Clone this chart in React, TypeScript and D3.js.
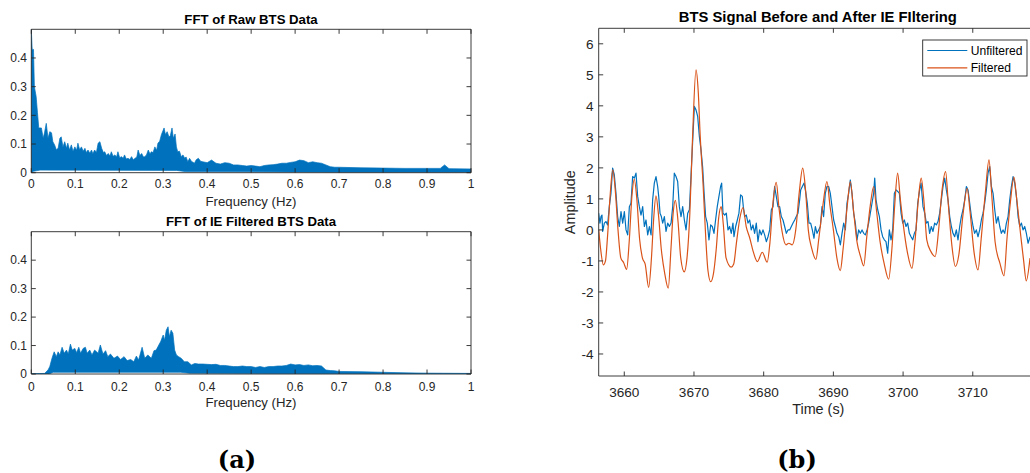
import React from 'react';
import * as d3 from 'd3';

const W = 1030;
const H = 473;
const BLUE = '#0072BD';
const ORANGE = '#D95319';
const AXC = '#262626';
const FONT = 'Liberation Sans, Arial, Helvetica, sans-serif';

// ---------- tick values / labels ----------
const freqTicks = [0, 0.1, 0.2, 0.3, 0.4, 0.5, 0.6, 0.7, 0.8, 0.9, 1];
const freqTickLabels = ['0', '0.1', '0.2', '0.3', '0.4', '0.5', '0.6', '0.7', '0.8', '0.9', '1'];
const fftYTicks = [0, 0.1, 0.2, 0.3, 0.4];
const fftYTickLabels = ['0', '0.1', '0.2', '0.3', '0.4'];
const timeTicks = [3660, 3670, 3680, 3690, 3700, 3710];
const ampTicks = [-4, -3, -2, -1, 0, 1, 2, 3, 4, 5, 6];

// ---------- FFT of raw data: [freq, upper envelope] ----------
const rawSpectrumTop: [number, number][] = [
  [0, 0.5], [0.002, 0.43], [0.005, 0.43], [0.007, 0.3], [0.011, 0.266], [0.014, 0.21], [0.017, 0.156],
  [0.023, 0.156], [0.027, 0.12], [0.03, 0.139], [0.034, 0.172], [0.038, 0.12], [0.042, 0.143],
  [0.046, 0.139], [0.049, 0.108], [0.053, 0.097], [0.057, 0.08], [0.061, 0.085], [0.065, 0.12],
  [0.068, 0.125], [0.072, 0.09], [0.076, 0.108], [0.08, 0.085], [0.083, 0.103], [0.087, 0.079],
  [0.091, 0.097], [0.095, 0.075], [0.099, 0.09], [0.103, 0.078], [0.106, 0.103], [0.11, 0.08],
  [0.114, 0.09], [0.118, 0.075], [0.122, 0.085], [0.125, 0.07], [0.129, 0.079], [0.133, 0.068],
  [0.137, 0.079], [0.14, 0.066], [0.144, 0.079], [0.148, 0.07], [0.152, 0.103], [0.156, 0.108],
  [0.16, 0.085], [0.164, 0.07], [0.167, 0.073], [0.171, 0.06], [0.175, 0.067], [0.179, 0.058],
  [0.182, 0.073], [0.186, 0.057], [0.19, 0.062], [0.194, 0.055], [0.197, 0.073], [0.201, 0.052],
  [0.205, 0.056], [0.209, 0.05], [0.212, 0.062], [0.216, 0.048], [0.22, 0.05], [0.224, 0.046],
  [0.228, 0.056], [0.232, 0.045], [0.236, 0.05], [0.24, 0.055], [0.243, 0.079], [0.247, 0.06],
  [0.251, 0.067], [0.255, 0.055], [0.258, 0.056], [0.262, 0.062], [0.266, 0.079], [0.27, 0.065],
  [0.273, 0.073], [0.277, 0.07], [0.281, 0.09], [0.285, 0.078], [0.288, 0.103], [0.292, 0.11],
  [0.296, 0.133], [0.302, 0.156], [0.305, 0.133], [0.309, 0.143], [0.313, 0.125], [0.316, 0.128],
  [0.32, 0.156], [0.323, 0.12], [0.327, 0.135], [0.33, 0.09], [0.333, 0.073], [0.337, 0.075],
  [0.341, 0.056], [0.345, 0.062], [0.349, 0.05], [0.352, 0.055], [0.356, 0.038], [0.36, 0.05],
  [0.364, 0.04], [0.371, 0.033], [0.375, 0.045], [0.38, 0.05], [0.385, 0.04], [0.39, 0.038],
  [0.4, 0.035], [0.41, 0.044], [0.42, 0.033], [0.43, 0.03], [0.44, 0.035], [0.45, 0.033],
  [0.46, 0.027], [0.47, 0.027], [0.48, 0.025], [0.49, 0.023], [0.5, 0.025], [0.51, 0.023], [0.52, 0.021],
  [0.53, 0.025], [0.54, 0.027], [0.55, 0.028], [0.56, 0.03], [0.57, 0.033], [0.58, 0.033], [0.59, 0.036],
  [0.6, 0.038], [0.61, 0.044], [0.62, 0.042], [0.63, 0.035], [0.64, 0.038], [0.65, 0.035], [0.66, 0.033],
  [0.67, 0.027], [0.68, 0.021], [0.69, 0.019], [0.7, 0.019], [0.75, 0.017], [0.8, 0.016], [0.85, 0.015],
  [0.9, 0.015], [0.93, 0.015], [0.94, 0.027], [0.95, 0.014], [1, 0.013],
];
const rawSpectrumFloor: [number, number][] = [
  [0, 0], [0.005, 0.005], [0.02, 0.009], [0.33, 0.008], [0.35, 0.004], [0.7, 0.002], [1, 0.002],
];

// ---------- FFT of IE filtered data ----------
const filtSpectrumTop: [number, number][] = [
  [0, 0.001], [0.03, 0.002], [0.038, 0.014], [0.042, 0.026], [0.047, 0.055], [0.052, 0.078],
  [0.057, 0.061], [0.061, 0.078], [0.065, 0.067], [0.07, 0.094], [0.075, 0.073], [0.08, 0.084],
  [0.084, 0.07], [0.089, 0.105], [0.093, 0.084], [0.099, 0.09], [0.103, 0.075], [0.108, 0.094],
  [0.112, 0.073], [0.118, 0.09], [0.123, 0.094], [0.127, 0.073], [0.133, 0.084], [0.138, 0.067],
  [0.144, 0.084], [0.152, 0.073], [0.157, 0.102], [0.163, 0.07], [0.169, 0.082], [0.174, 0.061],
  [0.18, 0.07], [0.188, 0.055], [0.196, 0.063], [0.203, 0.051], [0.211, 0.061], [0.218, 0.047],
  [0.226, 0.051], [0.233, 0.043], [0.239, 0.063], [0.244, 0.049], [0.252, 0.094], [0.258, 0.055],
  [0.265, 0.067], [0.273, 0.055], [0.279, 0.082], [0.284, 0.084], [0.29, 0.102], [0.294, 0.113],
  [0.3, 0.137], [0.303, 0.119], [0.307, 0.154], [0.311, 0.166], [0.314, 0.131], [0.318, 0.154],
  [0.322, 0.143], [0.326, 0.084], [0.33, 0.067], [0.335, 0.061], [0.341, 0.055], [0.348, 0.043],
  [0.356, 0.043], [0.364, 0.032], [0.372, 0.037], [0.38, 0.035], [0.39, 0.035],
  [0.4, 0.034], [0.41, 0.033], [0.42, 0.034], [0.43, 0.03], [0.44, 0.03], [0.45, 0.028], [0.46, 0.026],
  [0.47, 0.026], [0.48, 0.028], [0.49, 0.026], [0.5, 0.026], [0.51, 0.023], [0.52, 0.026], [0.53, 0.023],
  [0.54, 0.026], [0.55, 0.026], [0.56, 0.028], [0.57, 0.028], [0.58, 0.03], [0.59, 0.035], [0.6, 0.032],
  [0.61, 0.033], [0.62, 0.03], [0.63, 0.032], [0.64, 0.029], [0.65, 0.03], [0.66, 0.028], [0.67, 0.014],
  [0.68, 0.012], [0.69, 0.011], [0.7, 0.009], [0.75, 0.008], [0.8, 0.006], [0.85, 0.004], [0.9, 0.003],
  [1, 0.002],
];
const filtSpectrumFloor: [number, number][] = [
  [0, 0], [0.04, 0], [0.05, 0.006], [0.34, 0.006], [0.36, 0.003], [0.7, 0.001], [1, 0],
];

// ---------- time signals: [time (s), amplitude] ----------
const unfilteredSignal: [number, number][] = [
  [3656.32, 0.54], [3656.51, 0.22], [3656.66, 0.43], [3656.8, 0.48], [3656.9, -0.05], [3657.14, 0.22],
  [3657.38, 0.27], [3657.61, 0.16], [3657.85, 0.75], [3658.09, 1.18], [3658.33, 1.99], [3658.57, 1.77],
  [3658.81, 1.18], [3659.05, 0.43], [3659.29, 0.11], [3659.53, 0.59], [3659.77, 0.22], [3660.01, 0.59],
  [3660.25, 0], [3660.49, -0.16], [3660.73, 0.75], [3660.96, 0.86], [3661.2, 1.72], [3661.44, 1.67],
  [3661.68, 1.83], [3661.92, 1.08], [3662.16, 0.75], [3662.4, 0.48], [3662.64, 0.75], [3662.88, 0.11],
  [3663.12, 0.32], [3663.36, -0.16], [3663.6, 0.11], [3663.84, -0.16], [3664.07, 0.97], [3664.31, 1.51],
  [3664.55, 1.72], [3664.79, 1.4], [3664.94, 1.08], [3665.13, 0.54], [3665.32, 0.43], [3665.51, 0.22],
  [3665.75, 0.43], [3665.99, -0.05], [3666.23, 0.22], [3666.47, 0.11], [3666.71, 0.22], [3666.95, 0.75],
  [3667.18, 1.83], [3667.42, 1.72], [3667.66, 1.56], [3667.9, 0.75], [3668.14, 0.43], [3668.38, 0.75],
  [3668.62, 0.32], [3668.86, 0], [3669.1, 0.54], [3669.34, 0.65], [3669.58, 1.77], [3669.82, 2.9],
  [3670.06, 3.98], [3670.29, 3.87], [3670.53, 3.66], [3670.77, 3.01], [3671.01, 2.58], [3671.25, 2.0],
  [3671.45, 1.2], [3671.67, 0.43], [3671.91, 0.22], [3672.15, -0.32], [3672.39, 0.16], [3672.63, 0.11],
  [3672.87, -0.11], [3673.1, 0.32], [3673.34, 0.75], [3673.58, 1.08], [3673.82, 1.4], [3673.97, 1.51],
  [3674.16, 0.54], [3674.4, 0.48], [3674.64, 0.54], [3674.88, 0], [3675.11, 0.11], [3675.35, -0.11],
  [3675.59, 0.22], [3675.74, -0.22], [3675.98, 0.11], [3676.22, 0.32], [3676.45, 0.54], [3676.69, 1.13],
  [3676.93, 1.08], [3677.08, 0.75], [3677.27, 0.43], [3677.51, 0.48], [3677.75, 0.22], [3677.99, 0.32],
  [3678.22, 0], [3678.46, 0.16], [3678.7, -0.11], [3678.94, 0.22], [3679.18, -0.38], [3679.42, 0],
  [3679.66, -0.16], [3679.9, 0], [3680.14, -0.16], [3680.38, -0.38], [3680.62, -0.22], [3680.86, 0],
  [3681.1, 0.65], [3681.34, 0.75], [3681.57, 1.4], [3681.81, 1.08], [3682.05, 0.75], [3682.29, 0.75],
  [3682.53, 0.43], [3682.77, 0.32], [3683.01, 0.11], [3683.25, -0.11], [3683.49, 0], [3683.73, 0],
  [3683.97, 0.11], [3684.21, 0.22], [3684.45, 0.32], [3684.68, 0.43], [3684.92, 0.54], [3685.16, 0.97],
  [3685.31, 1.29], [3685.55, 1.4], [3685.79, 1.51], [3686.02, 1.24], [3686.26, 0.86], [3686.5, 0.22],
  [3686.74, 0.22], [3686.98, 0], [3687.22, -0.27], [3687.41, 0.11], [3687.65, -0.11], [3687.89, 0],
  [3688.13, 0.11], [3688.37, 0.75], [3688.6, 0.43], [3688.84, 1.18], [3689.08, 1.4], [3689.32, 1.4],
  [3689.56, 1.18], [3689.8, 0.75], [3690.04, 0.32], [3690.28, 0.11], [3690.52, -0.11], [3690.76, -0.22],
  [3691.0, -0.48], [3691.24, -0.11], [3691.48, 0.22], [3691.72, 0], [3691.95, 0.86], [3692.19, 1.18],
  [3692.43, 1.61], [3692.67, 1.18], [3692.91, 0.54], [3693.15, 0.22], [3693.39, -0.32], [3693.63, 0],
  [3693.87, -0.11], [3694.11, 0], [3694.35, -0.11], [3694.59, -0.16], [3694.83, 0], [3695.06, 0.22],
  [3695.3, 0.54], [3695.54, 0.86], [3695.78, 1.18], [3695.93, 1.67], [3696.12, 0.97], [3696.36, 0.65],
  [3696.6, 0.43], [3696.84, 0], [3697.07, -0.22], [3697.31, -0.32], [3697.55, -0.38], [3697.79, -0.75],
  [3698.03, 0], [3698.27, -0.32], [3698.51, 0], [3698.75, 1.18], [3698.99, 1.29], [3699.23, 1.24],
  [3699.47, 1.18], [3699.71, 0.54], [3699.95, 0.22], [3700.18, 0.32], [3700.42, 0.11], [3700.66, 0.22],
  [3700.9, -0.11], [3701.14, -0.22], [3701.38, -0.32], [3701.62, -0.11], [3701.86, 0], [3702.1, 0.86],
  [3702.38, 1.29], [3702.58, 1.51], [3702.86, 0.75], [3703.1, 0.54], [3703.34, 0.22], [3703.58, 0.27],
  [3703.81, -0.11], [3704.05, 0.11], [3704.29, -0.05], [3704.53, 0.22], [3704.77, 0.16], [3705.01, 0.27],
  [3705.25, 0.54], [3705.49, 0.97], [3705.73, 1.4], [3705.97, 1.67], [3706.21, 1.29], [3706.45, 0.97],
  [3706.69, 0.43], [3706.93, 0.11], [3707.16, -0.11], [3707.4, -0.22], [3707.64, 0], [3707.88, -0.32],
  [3708.12, 0.11], [3708.36, 0.43], [3708.6, 0.65], [3708.84, 0.97], [3709.08, 1.4], [3709.32, 1.29],
  [3709.56, 0.86], [3709.8, 0.43], [3710.04, 0.11], [3710.27, -0.11], [3710.51, 0], [3710.75, -0.22],
  [3710.99, 0], [3711.23, 0.32], [3711.47, 0.54], [3711.71, 0.86], [3711.95, 1.29], [3712.19, 1.83],
  [3712.43, 2.04], [3712.67, 1.4], [3712.91, 1.18], [3713.15, 0.65], [3713.39, 0.22], [3713.63, 0.43],
  [3713.87, 0.11], [3714.1, -0.11], [3714.34, 0], [3714.58, -0.11], [3714.82, 0.22], [3715.06, 0.43],
  [3715.3, 0.97], [3715.54, 1.4], [3715.78, 1.72], [3716.02, 1.51], [3716.26, 1.08], [3716.5, 0.43],
  [3716.74, 0.11], [3716.98, 0.22], [3717.21, 0], [3717.45, 0.11], [3717.69, -0.11], [3717.93, -0.43],
  [3718.22, -0.22],
];

const filteredSignal: [number, number][] = [
  [3656.33, 0.0], [3656.6, -0.6], [3657.0, -1.13], [3657.3, -1.0], [3657.6, -0.2], [3658.0, 1.2],
  [3658.34, 1.94], [3658.7, 1.3], [3659.1, 0.0], [3659.5, -0.9], [3659.9, -1.05], [3660.34, -1.27],
  [3660.7, -0.4], [3661.1, 1.1], [3661.43, 1.63], [3661.8, 1.0], [3662.2, -0.3], [3662.6, -0.9],
  [3663.0, -1.1], [3663.5, -1.85], [3663.9, -0.9], [3664.2, 0.3], [3664.55, 1.1], [3664.9, 0.5],
  [3665.3, -0.6], [3665.8, -1.4], [3666.31, -1.88], [3666.7, -0.6], [3667.0, 0.5], [3667.32, 0.95],
  [3667.7, 0.3], [3668.1, -0.9], [3668.6, -1.35], [3669.0, -0.9], [3669.4, 0.5], [3669.8, 3.0],
  [3670.29, 5.16], [3670.6, 4.5], [3670.9, 3.0], [3671.3, 1.5], [3671.7, -0.3], [3672.0, -1.3],
  [3672.4, -1.67], [3672.8, -1.4], [3673.2, -0.6], [3673.55, 0.4], [3673.9, 0.75], [3674.2, 0.2],
  [3674.6, -0.9], [3675.35, -1.2], [3675.7, -1.1], [3676.1, -0.4], [3676.6, 0.4], [3677.03, 0.72],
  [3677.5, 0.1], [3678.0, -0.26], [3678.5, -0.7], [3679.1, -1.02], [3679.8, -0.72], [3680.5, -1.04],
  [3680.9, -0.4], [3681.3, 0.8], [3681.8, 1.53], [3682.2, 0.7], [3682.6, 0.0], [3683.2, -0.48],
  [3683.6, -0.43], [3684.1, -0.48], [3684.6, 0.0], [3685.1, 1.2], [3685.6, 1.99], [3686.0, 1.3],
  [3686.4, 0.0], [3686.9, -0.6], [3687.5, -0.95], [3687.9, -0.3], [3688.5, 0.8], [3689.08, 1.56],
  [3689.5, 0.8], [3690.0, 0.0], [3690.5, -0.9], [3690.99, -1.31], [3691.4, -0.6], [3692.0, 0.8],
  [3692.43, 1.56], [3692.9, 0.6], [3693.4, -0.4], [3693.9, -0.86], [3694.35, -1.16], [3694.8, -0.2],
  [3695.3, 0.8], [3695.78, 1.4], [3696.2, 0.6], [3696.7, -0.38], [3697.3, -1.1], [3697.93, -1.59],
  [3698.4, -0.6], [3698.8, 0.8], [3699.22, 1.83], [3699.6, 1.0], [3700.0, 0.22], [3700.6, -0.7],
  [3701.28, -1.24], [3701.7, -0.4], [3702.2, 1.0], [3702.6, 1.67], [3703.0, 0.9], [3703.4, -0.32],
  [3704.0, -0.7], [3704.6, -0.86], [3705.1, 0.0], [3705.6, 1.3], [3706.1, 1.88], [3706.5, 0.8],
  [3707.0, -0.5], [3707.5, -1.18], [3708.0, -0.8], [3708.6, 0.5], [3709.2, 1.34], [3709.6, 0.6],
  [3710.2, -0.75], [3710.75, -1.29], [3711.2, -0.3], [3711.8, 1.2], [3712.33, 2.26], [3712.7, 1.2],
  [3713.2, -0.38], [3713.9, -1.08], [3714.48, -1.48], [3714.9, -0.3], [3715.4, 0.9], [3715.9, 1.7],
  [3716.3, 1.0], [3716.9, -0.22], [3717.3, -1.0], [3717.67, -1.64], [3718.21, -0.91],
];

// ---------- components ----------
type Scale = d3.ScaleLinear<number, number>;

function Box({ x, y, tick, xTicks, yTicks, mirrorY = true }: {
  x: Scale; y: Scale; tick: number; xTicks: number[]; yTicks: number[]; mirrorY?: boolean;
}) {
  const [x0, x1] = x.range();
  const [y0, y1] = y.range(); // y0 bottom, y1 top
  return (
    <g stroke={AXC} strokeWidth={0.9} fill="none">
      <line x1={x0} x2={x1} y1={y0} y2={y0} />
      <line x1={x0} x2={x1} y1={y1} y2={y1} />
      <line x1={x0} x2={x0} y1={y0} y2={y1} />
      {mirrorY && <line x1={x1} x2={x1} y1={y0} y2={y1} />}
      {xTicks.map((t) => (
        <g key={'x' + t}>
          <line x1={x(t)} x2={x(t)} y1={y0} y2={y0 - tick} />
          <line x1={x(t)} x2={x(t)} y1={y1} y2={y1 + tick} />
        </g>
      ))}
      {yTicks.map((t) => (
        <g key={'y' + t}>
          <line x1={x0} x2={x0 + tick} y1={y(t)} y2={y(t)} />
          {mirrorY && <line x1={x1} x2={x1 - tick} y1={y(t)} y2={y(t)} />}
        </g>
      ))}
    </g>
  );
}

function SpectrumPanel({ id, top, bottom, title, titleY, tickLabelY, xLabelY, upper, floor }: {
  id: string; top: number; bottom: number; title: string; titleY: number; tickLabelY: number; xLabelY: number;
  upper: [number, number][]; floor: [number, number][];
}) {
  const x = d3.scaleLinear().domain([0, 1]).range([31.3, 471]);
  const y = d3.scaleLinear().domain([0, 0.5]).range([bottom, top]);
  const pts: [number, number][] = [
    ...upper.map(([f, v]) => [x(f), y(v)] as [number, number]),
    ...floor.slice().reverse().map(([f, v]) => [x(f), y(v)] as [number, number]),
  ];
  const d = (d3.line()(pts) ?? '') + 'Z';
  return (
    <g>
      <clipPath id={id}>
        <rect x={31.3} y={top} width={471 - 31.3} height={bottom - top} />
      </clipPath>
      <path d={d} fill={BLUE} stroke={BLUE} strokeWidth={0.7} strokeLinejoin="miter" clipPath={`url(#${id})`} />
      <Box x={x} y={y} tick={4.5} xTicks={freqTicks} yTicks={fftYTicks} />
      <g fontFamily={FONT} fontSize={12} fill={AXC}>
        {freqTicks.map((t, i) => (
          <text key={t} x={x(t)} y={tickLabelY} textAnchor="middle">{freqTickLabels[i]}</text>
        ))}
        {fftYTicks.map((t, i) => (
          <text key={t} x={27} y={y(t) + 4.2} textAnchor="end">{fftYTickLabels[i]}</text>
        ))}
        <text x={251} y={xLabelY} textAnchor="middle" fontSize={13.2}>Frequency (Hz)</text>
        <text x={251} y={titleY} textAnchor="middle" fontSize={13.2} fontWeight="bold" fill="#000">{title}</text>
      </g>
    </g>
  );
}

function SignalPanel() {
  const L = 598.7, R = 1030, T = 28.3, B = 376;
  const x = d3.scaleLinear().domain([3656.33, 3656.33 + (R - L) / 6.97]).range([L, R]);
  const y = d3.scaleLinear().domain([-4.71, 6.5]).range([B, T]);
  const blueLine = d3.line<[number, number]>().x((d) => x(d[0])).y((d) => y(d[1]));
  const orangeLine = d3.line<[number, number]>().x((d) => x(d[0])).y((d) => y(d[1])).curve(d3.curveMonotoneX);
  return (
    <g>
      <clipPath id="sigclip">
        <rect x={L} y={T} width={R - L} height={B - T} />
      </clipPath>
      <g clipPath="url(#sigclip)" fill="none" strokeLinejoin="round">
        <path d={blueLine(unfilteredSignal) ?? ''} stroke={BLUE} strokeWidth={1.2} />
        <path d={orangeLine(filteredSignal) ?? ''} stroke={ORANGE} strokeWidth={1.2} />
      </g>
      <Box x={x} y={y} tick={4.5} xTicks={timeTicks} yTicks={ampTicks} mirrorY={false} />
      <g fontFamily={FONT} fill={AXC}>
        {timeTicks.map((t) => (
          <text key={t} x={x(t)} y={396.5} textAnchor="middle" fontSize={13.6}>{t}</text>
        ))}
        {ampTicks.map((t) => (
          <text key={t} x={593.5} y={y(t) + 4.8} textAnchor="end" fontSize={13.6}>{t}</text>
        ))}
        <text x={818.3} y={413.5} textAnchor="middle" fontSize={14.4}>Time (s)</text>
        <text transform={`translate(574.5, ${(T + B) / 2}) rotate(-90)`} textAnchor="middle" fontSize={14.4}>Amplitude</text>
        <text x={817.8} y={21.5} textAnchor="middle" fontSize={14.8} fontWeight="bold" fill="#000">
          BTS Signal Before and After IE FIltering
        </text>
      </g>
      {/* legend */}
      <g>
        <rect x={922.7} y={40} width={104.3} height={36} fill="#fff" stroke={AXC} strokeWidth={0.9} />
        <line x1={927.3} x2={967.3} y1={50.5} y2={50.5} stroke={BLUE} strokeWidth={1.2} />
        <line x1={927.3} x2={967.3} y1={67.8} y2={67.8} stroke={ORANGE} strokeWidth={1.2} />
        <g fontFamily={FONT} fontSize={12.1} fill="#000">
          <text x={970.7} y={55.3}>Unfiltered</text>
          <text x={970.7} y={72.4}>Filtered</text>
        </g>
      </g>
    </g>
  );
}

export default function App() {
  return (
    <svg width={W} height={H} viewBox={`0 0 ${W} ${H}`}
      style={{ position: 'absolute', left: 0, top: 0, background: '#fff' }}>
      <rect x={0} y={0} width={W} height={H} fill="#fff" />
      <SpectrumPanel id="c1" top={29.3} bottom={172.7} title="FFT of Raw BTS Data" titleY={24}
        tickLabelY={188.3} xLabelY={205.5} upper={rawSpectrumTop} floor={rawSpectrumFloor} />
      <SpectrumPanel id="c2" top={231.7} bottom={374} title="FFT of IE Filtered BTS Data" titleY={226}
        tickLabelY={390.5} xLabelY={407} upper={filtSpectrumTop} floor={filtSpectrumFloor} />
      <SignalPanel />
      <g fontFamily="DejaVu Serif, Liberation Serif, serif" fontWeight="bold" fontSize={24} fill="#000">
        <text x={237} y={468} textAnchor="middle">(a)</text>
        <text x={797} y={468} textAnchor="middle">(b)</text>
      </g>
    </svg>
  );
}
